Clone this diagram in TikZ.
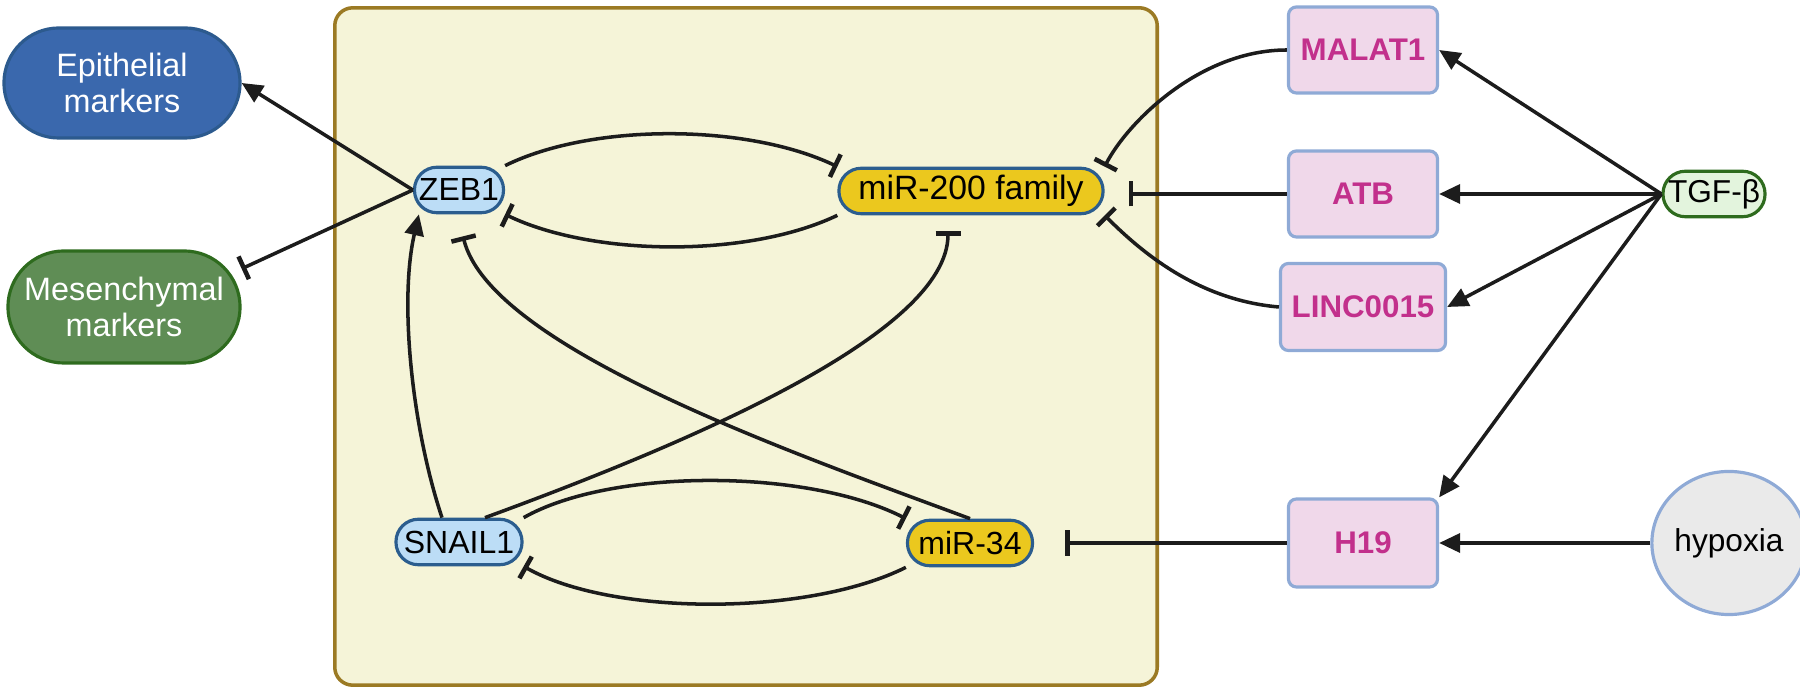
\documentclass[tikz,border=0pt]{standalone}
\usepackage{fontspec}
\setmainfont{Liberation Sans}
\usetikzlibrary{arrows.meta,shapes.geometric,calc}
\definecolor{linec}{HTML}{1C1C1C}
\definecolor{epifill}{HTML}{3A68AD}
\definecolor{epiborder}{HTML}{2C5A8E}
\definecolor{mesfill}{HTML}{5F8D55}
\definecolor{mesborder}{HTML}{2E6B1E}
\definecolor{tffill}{HTML}{BCDDF6}
\definecolor{nodeborder}{HTML}{2B5D8E}
\definecolor{mirfill}{HTML}{EBC81E}
\definecolor{panelfill}{HTML}{F5F4D8}
\definecolor{panelborder}{HTML}{9B7A24}
\definecolor{lncfill}{HTML}{F0D8EA}
\definecolor{lncborder}{HTML}{8FAAD6}
\definecolor{lnctext}{HTML}{C2308C}
\definecolor{tgffill}{HTML}{E3F4DD}
\definecolor{hypfill}{HTML}{EAEAEA}
\begin{document}
\begin{tikzpicture}[x=0.01cm,y=-0.01cm,
  conn/.style={draw=linec, line width=1pt},
  act/.style={conn, -{Triangle[length=0.21cm,width=0.19cm]}},
  inh/.style={conn, -{Bar[width=0.25cm,line width=1.3pt]}},
  pill/.style={rectangle, rounded corners=0.225cm, line width=0.9pt, minimum height=0.455cm,
    inner sep=0pt, font=\fontsize{9.1}{10}\selectfont, draw=nodeborder},
  tfnode/.style={pill, fill=tffill},
  mirnode/.style={pill, fill=mirfill},
  lncnode/.style={rectangle, rounded corners=0.08cm, fill=lncfill, draw=lncborder, line width=0.9pt,
    minimum width=1.49cm, minimum height=0.86cm, inner sep=0pt, text=lnctext,
    font=\bfseries\fontsize{8.9}{10}\selectfont},
  marker/.style={rectangle, rounded corners=0.55cm, minimum height=1.1cm, inner sep=0pt,
    text=white, align=center, line width=0.9pt, font=\fontsize{9.2}{10.3}\selectfont},
  panelbox/.style={rectangle, rounded corners=0.18cm, fill=panelfill, draw=panelborder,
    line width=1pt, minimum width=8.22cm, minimum height=6.77cm, inner sep=0pt}
]
\useasboundingbox (0,0) rectangle (1800,692);

% panel
\node[panelbox] (panel) at (746,346.5) {};

% marker nodes
\node[marker, fill=epifill, draw=epiborder, minimum width=2.36cm] (epi) at (122,83) {Epithelial\\markers};
\node[marker, fill=mesfill, draw=mesborder, minimum width=2.32cm, minimum height=1.12cm, rounded corners=0.56cm] (mes) at (124,307) {Mesenchymal\\markers};

% inner nodes
\node[tfnode, minimum width=0.89cm] (zeb1) at (459,190) {ZEB1};
\node[mirnode, minimum width=2.64cm, font=\fontsize{9.6}{10}\selectfont] (mir200) at (971,191) {miR-200 family};
\node[tfnode, minimum width=1.26cm] (snail) at (459,542) {SNAIL1};
\node[mirnode, minimum width=1.25cm] (mir34) at (970,543) {miR-34};

% lncRNA boxes
\node[lncnode] (malat) at (1363,50) {MALAT1};
\node[lncnode] (atb) at (1363,194) {ATB};
\node[lncnode, minimum width=1.65cm, minimum height=0.87cm] (linc) at (1363,307) {LINC0015};
\node[lncnode, minimum height=0.88cm] (h19) at (1363,543) {H19};

% stimuli
\node[pill, fill=tgffill, draw=mesborder, minimum width=1.02cm, font=\fontsize{9}{10}\selectfont] (tgf) at (1714,194) {TGF-β};
\node[ellipse, fill=hypfill, draw=lncborder, line width=0.9pt, minimum width=1.27cm, minimum height=1.43cm,
  inner sep=0pt, font=\fontsize{9}{10}\selectfont] (hyp) at (1729,543) {hypoxia};

% ZEB1 outputs
\draw[act] (zeb1.west) -- (epi.east);
\draw[inh] (zeb1.west) -- (mes.18);

% ZEB1 / miR-200 loop
\draw[inh] (zeb1.north east) .. controls +(87,-43) and +(-90,-43) .. (mir200.north west);
\draw[inh] (mir200.south west) .. controls +(-90,43) and +(87,42) .. (zeb1.south east);

% SNAIL1 / miR-34 loop
\draw[inh] (snail.north east) .. controls +(88,-50) and +(-98,-50) .. (mir34.north west);
\draw[inh] (mir34.south west) .. controls +(-98,49) and +(88,50) .. (snail.south east);

% cross links
\draw[act] ($(snail.north)+(-17,0)$) .. controls +(-30,-90) and +(-20,87) .. ($(zeb1.south west)+(6,0)$);
\draw[inh] (mir34.north) .. controls +(-175,-65) and +(28,112) .. ($(zeb1.south)+(4,22)$);
\draw[inh] ($(snail.north)+(26,0)$) .. controls +(205,-75) and +(0,102) .. ($(mir200.south)+(-23,16)$);

% lncRNAs on miR-200 / miR-34
\draw[inh] (malat.west) .. controls +(-88,0) and +(22,-43) .. (mir200.north east);
\draw[inh, shorten >=0.24cm] (atb.west) -- (atb.west -| mir200.east);
\draw[inh] (linc.west) .. controls +(-81,-7) and +(37,37) .. (mir200.south east);
\draw[inh, shorten >=0.31cm] (h19.west) -- (h19.west -| mir34.east);

% TGF-beta and hypoxia
\draw[act] (tgf.west) -- (malat.east);
\draw[act] (tgf.west) -- (atb.east);
\draw[act] (tgf.west) -- (linc.east);
\draw[act] (tgf.west) -- (h19.north east);
\draw[act] (hyp.west) -- (h19.east);
\end{tikzpicture}
\end{document}
